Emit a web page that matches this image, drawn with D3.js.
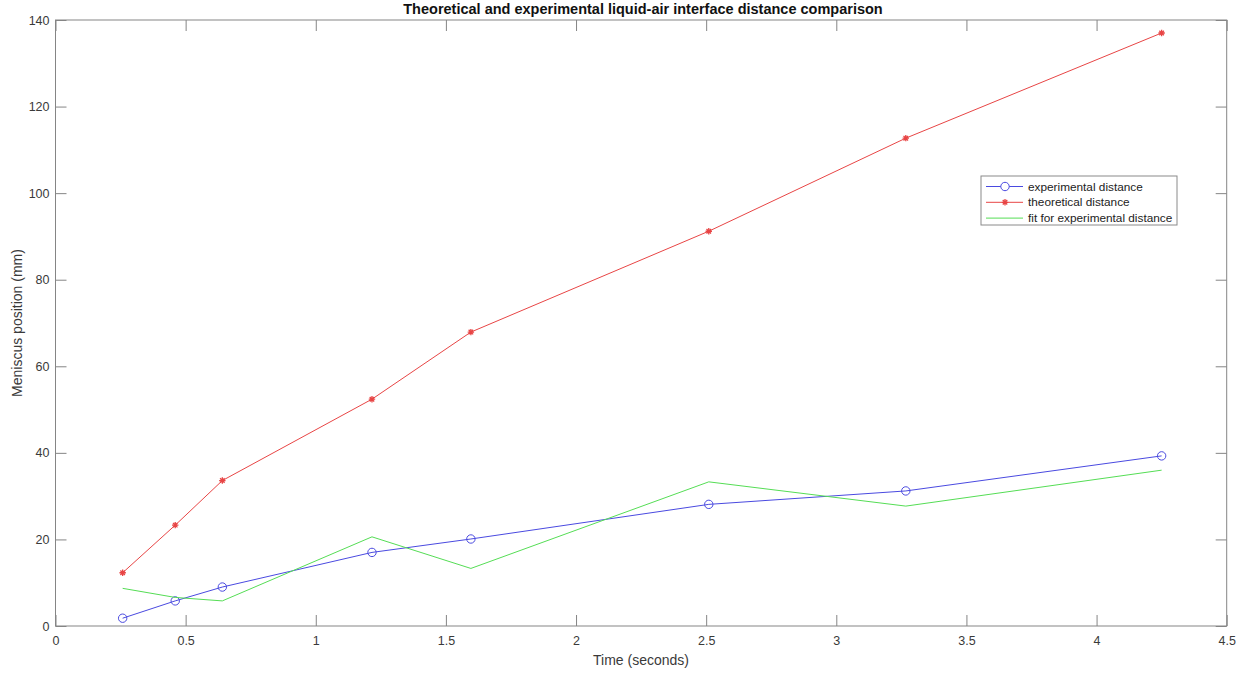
<!DOCTYPE html>
<html>
<head>
<meta charset="utf-8">
<script src="https://cdn.jsdelivr.net/npm/d3@7"></script>
<style>
  html, body { margin: 0; padding: 0; background: #fff; }
  svg { display: block; font-family: "Liberation Sans", Arial, sans-serif; }
</style>
</head>
<body>
<svg id="chart" width="1253" height="673"></svg>
<script>
// Time samples (seconds)
const times = [0.258, 0.46, 0.641, 1.216, 1.596, 2.51, 3.267, 4.25];
// Measured meniscus position (mm)
const experimental = [1.8, 5.8, 9.0, 17.0, 20.1, 28.1, 31.2, 39.3];
// Model prediction (mm)
const theoretical = [12.3, 23.3, 33.6, 52.4, 67.9, 91.2, 112.7, 137.0];
// Fitted curve evaluated at the same times (mm)
const fitted = [8.7, 6.6, 5.8, 20.6, 13.3, 33.3, 27.7, 36.0];

const xTicks = [0, 0.5, 1, 1.5, 2, 2.5, 3, 3.5, 4, 4.5];
const yTicks = [0, 20, 40, 60, 80, 100, 120, 140];

const seriesNames = ["experimental distance", "theoretical distance", "fit for experimental distance"];

const plotLeft = 55.5, plotRight = 1226.7, plotTop = 20, plotBottom = 626;
const axisColor = "#858585";
const textColor = "#3a3a3a";
const blue = "#4a4ae0", red = "#e84545", green = "#55dd55";

const svg = d3.select("#chart");
const x = d3.scaleLinear().domain([0, 4.5]).range([plotLeft, plotRight]);
const y = d3.scaleLinear().domain([0, 140]).range([plotBottom, plotTop]);

// Axes box with inward ticks on all four sides
function styleAxis(g) {
  g.select(".domain").remove();
  g.selectAll(".tick line").attr("stroke", axisColor);
  g.selectAll(".tick text").attr("fill", textColor).style("font-size", "12.5px");
}
svg.append("g").attr("transform", `translate(0,${plotBottom})`)
  .call(d3.axisBottom(x).tickValues(xTicks).tickFormat(d3.format("")).tickSizeInner(-11).tickPadding(10))
  .call(styleAxis);
svg.append("g").attr("transform", `translate(0,${plotTop})`)
  .call(d3.axisTop(x).tickValues(xTicks).tickFormat("").tickSizeInner(-11))
  .call(styleAxis);
svg.append("g").attr("transform", `translate(${plotLeft},0)`)
  .call(d3.axisLeft(y).tickValues(yTicks).tickSizeInner(-11).tickPadding(6))
  .call(styleAxis);
svg.append("g").attr("transform", `translate(${plotRight},0)`)
  .call(d3.axisRight(y).tickValues(yTicks).tickFormat("").tickSizeInner(-11))
  .call(styleAxis);
svg.append("rect")
  .attr("x", plotLeft).attr("y", plotTop)
  .attr("width", plotRight - plotLeft).attr("height", plotBottom - plotTop)
  .attr("fill", "none").attr("stroke", axisColor).attr("stroke-width", 1);

const line = d3.line().x(d => x(d[0])).y(d => y(d[1]));
const plot = svg.append("g");

function asteriskPath(s) {
  const a = s * 0.7071;
  return `M${-s},0L${s},0M0,${-s}L0,${s}M${-a},${-a}L${a},${a}M${-a},${a}L${a},${-a}`;
}

// Experimental data: blue line with circle markers
const expPts = times.map((t, i) => [t, experimental[i]]);
plot.append("path").datum(expPts).attr("d", line)
  .attr("fill", "none").attr("stroke", blue).attr("stroke-width", 1);
plot.selectAll(".expm").data(expPts).enter().append("circle")
  .attr("cx", d => x(d[0])).attr("cy", d => y(d[1])).attr("r", 4.2)
  .attr("fill", "none").attr("stroke", blue).attr("stroke-width", 1);

// Theoretical: red line with asterisk markers
const thPts = times.map((t, i) => [t, theoretical[i]]);
plot.append("path").datum(thPts).attr("d", line)
  .attr("fill", "none").attr("stroke", red).attr("stroke-width", 1);
plot.selectAll(".thm").data(thPts).enter().append("path")
  .attr("transform", d => `translate(${x(d[0])},${y(d[1])})`)
  .attr("d", asteriskPath(3.2))
  .attr("fill", "none").attr("stroke", red).attr("stroke-width", 1.3);

// Fit: plain green line
const fitPts = times.map((t, i) => [t, fitted[i]]);
plot.append("path").datum(fitPts).attr("d", line)
  .attr("fill", "none").attr("stroke", green).attr("stroke-width", 1);

// Title and axis labels
svg.append("text").attr("x", 643).attr("y", 14)
  .attr("text-anchor", "middle").attr("font-weight", "bold")
  .style("font-size", "14.5px").attr("fill", "#111")
  .text("Theoretical and experimental liquid-air interface distance comparison");
svg.append("text").attr("x", 641).attr("y", 665)
  .attr("text-anchor", "middle").style("font-size", "14px").attr("fill", textColor)
  .text("Time (seconds)");
svg.append("text")
  .attr("transform", `translate(22,${(plotTop + plotBottom) / 2}) rotate(-90)`)
  .attr("text-anchor", "middle").style("font-size", "14px").attr("fill", textColor)
  .text("Meniscus position (mm)");

// Legend
const lg = svg.append("g").attr("transform", "translate(981,176)");
lg.append("rect").attr("width", 196).attr("height", 49)
  .attr("fill", "#fff").attr("stroke", "#8a8a8a").attr("stroke-width", 1);
const legendColors = [blue, red, green];
seriesNames.forEach((name, i) => {
  const ry = 10.5 + i * 15.8;
  lg.append("line").attr("x1", 5).attr("x2", 42).attr("y1", ry).attr("y2", ry)
    .attr("stroke", legendColors[i]).attr("stroke-width", 1);
  if (i === 0) {
    lg.append("circle").attr("cx", 24).attr("cy", ry).attr("r", 4.2)
      .attr("fill", "#fff").attr("stroke", blue).attr("stroke-width", 1);
  } else if (i === 1) {
    lg.append("path").attr("transform", `translate(24,${ry})`).attr("d", asteriskPath(3.2))
      .attr("fill", "none").attr("stroke", red).attr("stroke-width", 1.3);
  }
  lg.append("text").attr("x", 47).attr("y", ry + 4)
    .style("font-size", "11.8px").attr("fill", "#222").text(name);
});
</script>
</body>
</html>
